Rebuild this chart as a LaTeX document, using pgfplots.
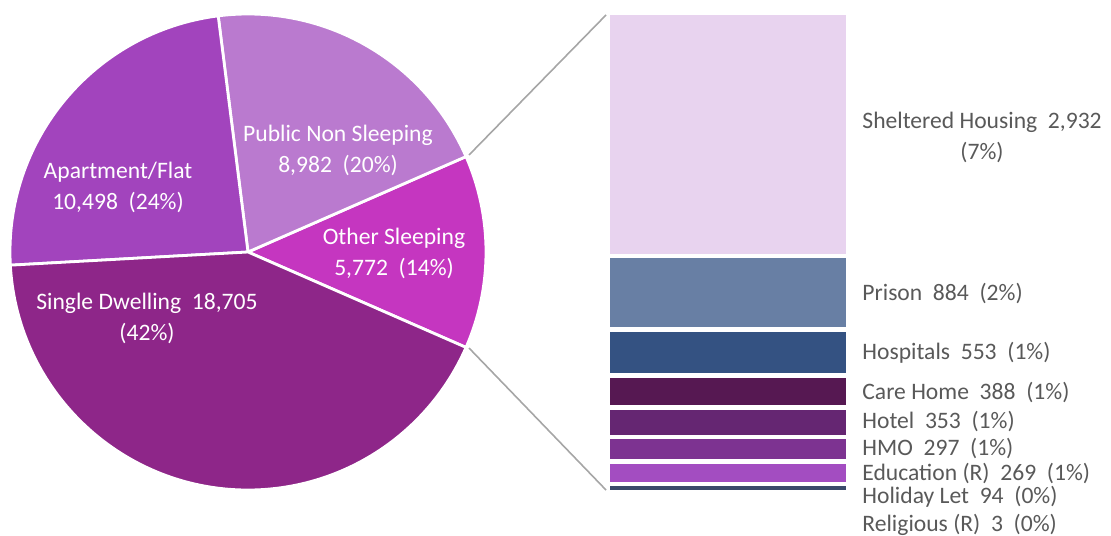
\documentclass[border=0pt]{standalone}
\usepackage{pgfplots}
\pgfplotsset{compat=1.18}
\usepackage{fontspec}
\setmainfont{Carlito}

\definecolor{cApt}{HTML}{A244BD}
\definecolor{cPub}{HTML}{BA7ACF}
\definecolor{cOth}{HTML}{C536C0}
\definecolor{cSgl}{HTML}{8E2689}
\definecolor{cShel}{HTML}{E8D3EF}
\definecolor{cPris}{HTML}{687FA4}
\definecolor{cHosp}{HTML}{345282}
\definecolor{cCare}{HTML}{561852}
\definecolor{cHot}{HTML}{652672}
\definecolor{cHmo}{HTML}{7D3391}
\definecolor{cEdu}{HTML}{A34DC1}
\definecolor{cHol}{HTML}{3A4A6A}
\definecolor{cRel}{HTML}{2F3F5F}
\definecolor{txt}{HTML}{595959}
\definecolor{conn}{HTML}{A6A6A6}

% pie values
\def\vSgl{18705}
\def\vApt{10498}
\def\vPub{8982}
\def\vOth{5772}
\edef\tot{\fpeval{\vSgl+\vApt+\vPub+\vOth}}
\edef\sA{\fpeval{round(-0.5*\vOth/\tot*360,4)}}
\edef\sB{\fpeval{round(\sA+\vOth/\tot*360,4)}}
\edef\sC{\fpeval{round(\sB+\vPub/\tot*360,4)}}
\edef\sD{\fpeval{round(\sC+\vApt/\tot*360,4)}}
\edef\sE{\fpeval{round(\sD+\vSgl/\tot*360,4)}}

\begin{document}
\fontsize{11.8}{15.5}\selectfont
\begin{tikzpicture}
\useasboundingbox (0,0) rectangle (555.5pt,-267.5pt);

% pie
\begin{axis}[at={(124pt,-126pt)}, anchor=center, hide axis, scale only axis,
    width=238pt, height=238pt, xmin=-1, xmax=1, ymin=-1, ymax=1, clip=false]
\fill[cOth, draw=white, line width=1.4pt] (axis cs:0,0) -- (axis cs:{cos(\sA)},{sin(\sA)}) arc[start angle=\sA, end angle=\sB, radius=119pt] -- cycle;
\fill[cPub, draw=white, line width=1.4pt] (axis cs:0,0) -- (axis cs:{cos(\sB)},{sin(\sB)}) arc[start angle=\sB, end angle=\sC, radius=119pt] -- cycle;
\fill[cApt, draw=white, line width=1.4pt] (axis cs:0,0) -- (axis cs:{cos(\sC)},{sin(\sC)}) arc[start angle=\sC, end angle=\sD, radius=119pt] -- cycle;
\fill[cSgl, draw=white, line width=1.4pt] (axis cs:0,0) -- (axis cs:{cos(\sD)},{sin(\sD)}) arc[start angle=\sD, end angle=\sE, radius=119pt] -- cycle;
\end{axis}

% bar of other sleeping
\begin{axis}[at={(304pt,-6.5pt)}, anchor=north west, hide axis, scale only axis,
    width=120pt, height=239.5pt, xmin=-0.5, xmax=0.5, ymin=0, ymax=5773,
    ybar stacked, bar width=120pt, clip=false,
    every axis plot/.append style={draw=white, line width=2.2pt}]
\addplot[fill=cRel] coordinates {(0,3)};
\addplot[fill=cHol] coordinates {(0,94)};
\addplot[fill=cEdu] coordinates {(0,269)};
\addplot[fill=cHmo] coordinates {(0,297)};
\addplot[fill=cHot] coordinates {(0,353)};
\addplot[fill=cCare] coordinates {(0,388)};
\addplot[fill=cHosp] coordinates {(0,553)};
\addplot[fill=cPris] coordinates {(0,884)};
\addplot[fill=cShel] coordinates {(0,2932)};
\end{axis}

\begin{scope}[x=0.5pt, y=-0.5pt]
\draw[conn, line width=0.8pt] (469,155) -- (606,15);
\draw[conn, line width=0.8pt] (469,348) -- (606,490);

\begin{scope}[every node/.style={text=white, align=center, inner sep=0pt}]
\node at (118,187) {Apartment/Flat\\10,498~~(24\%)};
\node at (338,150) {Public Non Sleeping\\8,982~~(20\%)};
\node at (394,253) {Other Sleeping\\5,772~~(14\%)};
\node at (147,318) {Single Dwelling~~18,705\\(42\%)};
\end{scope}

\begin{scope}[every node/.style={text=txt, anchor=west, inner sep=0pt}]
\node[align=center] at (862,137) {Sheltered Housing~~2,932\\(7\%)};
\node at (862,294) {Prison~~884~~(2\%)};
\node at (862,353) {Hospitals~~553~~(1\%)};
\node at (862,392) {Care Home~~388~~(1\%)};
\node at (862,421) {Hotel~~353~~(1\%)};
\node at (862,448) {HMO~~297~~(1\%)};
\node at (862,473) {Education (R)~~269~~(1\%)};
\node at (862,497) {Holiday Let~~94~~(0\%)};
\node at (862,525) {Religious (R)~~3~~(0\%)};
\end{scope}
\end{scope}
\end{tikzpicture}
\end{document}
